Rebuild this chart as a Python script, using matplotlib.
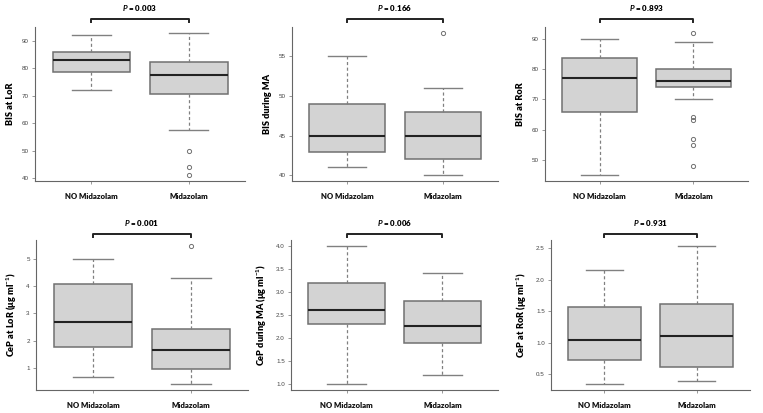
import matplotlib
matplotlib.use('Agg')
import matplotlib.pyplot as plt
import matplotlib.transforms as mtransforms

plt.rcParams['font.family'] = ['Lato', 'DejaVu Sans']
plt.rcParams['mathtext.fontset'] = 'custom'
plt.rcParams['mathtext.rm'] = 'Lato:bold'
plt.rcParams['mathtext.it'] = 'Lato:italic:bold'

groups = ['NO Midazolam', 'Midazolam']

# box stats: [whisker low, Q1, median, Q3, whisker high]
bis_lor_no = [72, 78.5, 83, 86, 92]
bis_lor_mid = [57.5, 70.6, 77.5, 82.3, 93]
bis_lor_mid_out = [50, 44, 41]

bis_ma_no = [41, 43, 45, 49, 55]
bis_ma_mid = [40, 42, 45, 48, 51]
bis_ma_mid_out = [58]

bis_ror_no = [45, 66, 77, 83.5, 90]
bis_ror_mid = [70, 74, 76, 80, 89]
bis_ror_mid_out = [92, 64.2, 63.1, 57, 55, 48]

cep_lor_no = [0.7, 1.77, 2.7, 4.06, 5.0]
cep_lor_mid = [0.41, 0.96, 1.68, 2.45, 4.3]
cep_lor_mid_out = [5.48]

cep_ma_no = [1.0, 2.3, 2.6, 3.2, 4.0]
cep_ma_mid = [1.2, 1.9, 2.27, 2.8, 3.4]

cep_ror_no = [0.34, 0.73, 1.04, 1.57, 2.16]
cep_ror_mid = [0.39, 0.62, 1.10, 1.61, 2.54]

ylabels = ['BIS at LoR', 'BIS during MA', 'BIS at RoR',
           'CeP at LoR (μg ml$^{-1}$)', 'CeP during MA (μg ml$^{-1}$)',
           'CeP at RoR (μg ml$^{-1}$)']
p_values = ['0.003', '0.166', '0.893', '0.001', '0.006', '0.931']
yticks = [[40, 50, 60, 70, 80, 90], [40, 45, 50, 55], [50, 60, 70, 80, 90],
          [1, 2, 3, 4, 5], [1.0, 1.5, 2.0, 2.5, 3.0, 3.5, 4.0],
          [0.5, 1.0, 1.5, 2.0, 2.5]]
tick_fmt = ['{:.0f}', '{:.0f}', '{:.0f}', '{:.0f}', '{:.1f}', '{:.1f}']

panels = [
    (bis_lor_no, [], bis_lor_mid, bis_lor_mid_out),
    (bis_ma_no, [], bis_ma_mid, bis_ma_mid_out),
    (bis_ror_no, [], bis_ror_mid, bis_ror_mid_out),
    (cep_lor_no, [], cep_lor_mid, cep_lor_mid_out),
    (cep_ma_no, [], cep_ma_mid, []),
    (cep_ror_no, [], cep_ror_mid, []),
]

# axes positions in pixels: left, right, top, bottom
W, H = 763, 413
boxes_px = [(35, 245, 27, 181), (292, 498, 27, 181), (545, 748, 27, 181),
            (36, 248, 240, 390), (291, 498, 240, 390), (551, 750, 240, 390)]


def make_stats(vals, out, label):
    lo, q1, med, q3, hi = vals
    return dict(whislo=lo, q1=q1, med=med, q3=q3, whishi=hi, fliers=out, label=label)


fig = plt.figure(figsize=(W / 100, H / 100), dpi=100)

for i, (no, no_out, mid, mid_out) in enumerate(panels):
    l, r, t, b = boxes_px[i]
    ax = fig.add_axes([l / W, 1 - b / H, (r - l) / W, (b - t) / H])
    stats = [make_stats(no, no_out, groups[0]), make_stats(mid, mid_out, groups[1])]
    ax.bxp(stats, positions=[1, 2], widths=0.8, capwidths=0.4, patch_artist=True,
           boxprops=dict(facecolor='#d3d3d3', edgecolor='#707070', linewidth=1.1),
           medianprops=dict(color='#222222', linewidth=1.5),
           whiskerprops=dict(color='#808080', linestyle=(0, (2.5, 2)), linewidth=0.9),
           capprops=dict(color='#808080', linewidth=1.0),
           flierprops=dict(marker='o', markerfacecolor='none', markeredgecolor='#707070',
                           markersize=3.0, markeredgewidth=0.7))

    allv = no + mid + mid_out
    lo, hi = min(allv), max(allv)
    pad = 0.04 * (hi - lo)
    ax.set_ylim(lo - pad, hi + pad)
    ax.set_xlim(0.42, 2.58)

    ax.set_yticks(yticks[i])
    ax.set_yticklabels([tick_fmt[i].format(v) for v in yticks[i]],
                       family='Liberation Sans', fontsize=4.5, color='#444444')
    ax.set_xticks([1, 2])
    ax.set_xticklabels(groups, fontsize=5.6, fontweight='heavy', color='#111111')
    ax.tick_params(axis='both', length=2.5, width=0.6, color='#888888', pad=2)
    ax.tick_params(axis='x', pad=6)

    for s in ['top', 'right']:
        ax.spines[s].set_visible(False)
    for s in ['left', 'bottom']:
        ax.spines[s].set_color('#666666')
        ax.spines[s].set_linewidth(0.8)

    ax.set_ylabel(ylabels[i], fontsize=6.6, fontweight='heavy', labelpad=5)

    # significance bracket
    trans = mtransforms.blended_transform_factory(ax.transData, ax.transAxes)
    yb = 1.05 if i < 3 else 1.04
    ax.plot([1, 1, 2, 2], [yb - 0.02, yb, yb, yb - 0.02], color='#222222',
            linewidth=1.4, transform=trans, clip_on=False)
    ax.text(1.5, yb + 0.075, '$P$ = ' + p_values[i], transform=trans,
            ha='center', va='center', fontsize=5.8, fontweight='heavy')

fig.savefig('out.png', dpi=100, facecolor='white')
